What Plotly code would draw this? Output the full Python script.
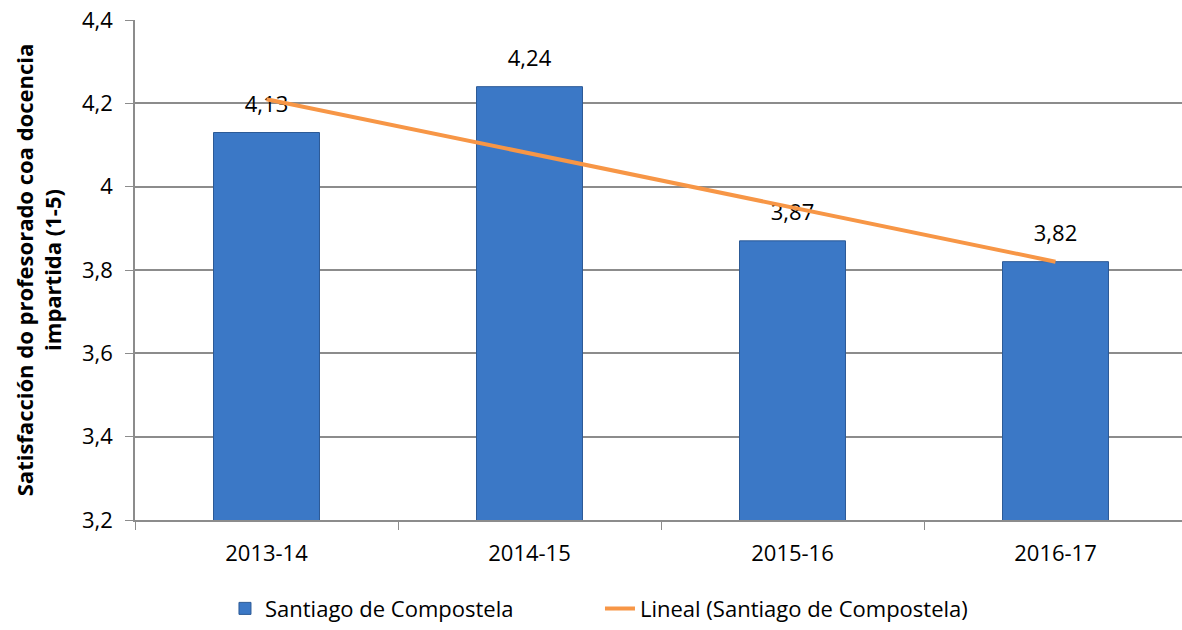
import plotly.graph_objects as go

categories = ["2013-14", "2014-15", "2015-16", "2016-17"]
values = [4.13, 4.24, 3.87, 3.82]
trend = [4.21, 4.08, 3.95, 3.82]
y_ticks = [3.2, 3.4, 3.6, 3.8, 4.0, 4.2, 4.4]

FONT = "Open Sans"
label_shift = 0.063

fig = go.Figure()
fig.add_trace(go.Bar(
    x=categories, y=values, width=0.403,
    marker=dict(color="#3b78c6", line=dict(color="#2c5a96", width=1)),
    name="Santiago de Compostela",
))
fig.add_trace(go.Scatter(
    x=categories, y=values, mode="text", texttemplate="%{y:.2f}",
    textposition="middle center", textfont=dict(family=FONT, size=22, color="#000000"),
    yaxis="y2", showlegend=False, hoverinfo="skip",
))
fig.add_trace(go.Scatter(
    x=categories, y=trend, mode="lines",
    line=dict(color="#f79646", width=4),
    yaxis="y3", name="Lineal (Santiago de Compostela)",
))

fig.update_layout(
    width=1182, height=630,
    margin=dict(l=135, r=0, t=20, b=110, autoexpand=False),
    plot_bgcolor="white", paper_bgcolor="white",
    separators=",.",
    font=dict(family=FONT, size=22, color="#000000"),
    xaxis=dict(
        type="category", range=[-0.5, 3.481], automargin=False,
        showline=True, linecolor="#8c8c8c", linewidth=1.5,
        ticks="outside", tickson="boundaries", ticklen=8, tickcolor="#8c8c8c",
        showgrid=False, ticklabelstandoff=13,
        tickfont=dict(family=FONT, size=22),
    ),
    yaxis=dict(
        range=[3.2, 4.4], tickvals=y_ticks, automargin=False,
        showline=True, linecolor="#8c8c8c", linewidth=1.5,
        ticks="outside", ticklen=8, tickcolor="#8c8c8c",
        showgrid=True, gridcolor="#8c8c8c", gridwidth=1.5,
        zeroline=False, ticklabelstandoff=8,
        tickfont=dict(family=FONT, size=22),
        title=dict(text="Satisfacción do profesorado coa docencia<br>impartida (1-5)",
                   font=dict(family=FONT, size=22, color="#000000", weight="bold"),
                   standoff=14),
    ),
    yaxis2=dict(overlaying="y", range=[3.2 - label_shift, 4.4 - label_shift], visible=False),
    yaxis3=dict(overlaying="y", range=[3.2, 4.4], visible=False),
    showlegend=True,
    legend=dict(orientation="h", xref="container", yref="container",
                x=0.5076, y=0.034, xanchor="center", yanchor="middle",
                entrywidth=330, font=dict(family=FONT, size=22)),
)

fig.write_html("out.html", config={"displayModeBar": False},
               post_script="document.body.style.margin='0';document.body.style.overflow='hidden';")
